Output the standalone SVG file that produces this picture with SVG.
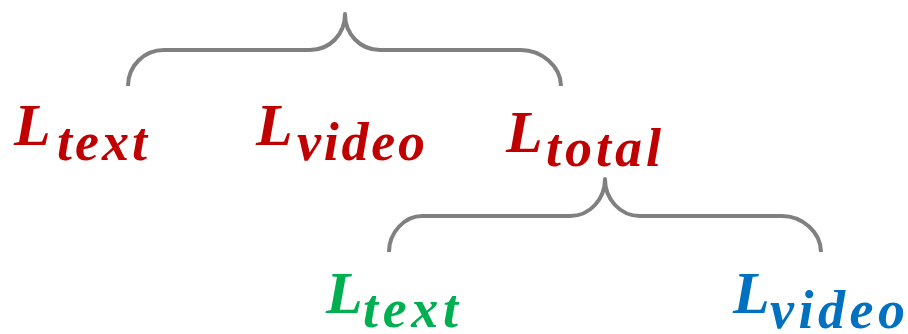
<svg xmlns="http://www.w3.org/2000/svg" width="908" height="334" viewBox="0 0 908 334">
<style>
.brace{fill:none;stroke:#808080;stroke-width:4;stroke-linejoin:round}
.lbl{font-family:"Liberation Serif","Times New Roman",serif;font-weight:bold;font-style:italic}
.big{font-size:60px}
.sub{font-size:54px}
.red{fill:#C00000}
.green{fill:#00B050}
.blue{fill:#0070C0}
</style>
<rect width="908" height="334" fill="#fff"/>
<g id="connectors">
<path class="brace" d="M128,86 C128,66 144,50 164,50 H310 C330,50 345,34 345,14 C345,34 360,50 380,50 H521 C541,50 561,66 561,86"/>
<path class="brace" d="M389,252 C389,232 405,216 422,216 H570 C590,216 605,199 605,179 C605,199 620,216 640,216 H782 C802,216 821,232 821,252"/>
</g>
<g id="node-ltext-top">
<text class="lbl red"><tspan class="big" x="14" y="145">L</tspan><tspan class="sub" x="57" y="160" textLength="90" lengthAdjust="spacing">text</tspan></text>
</g>
<g id="node-lvideo-top">
<text class="lbl red"><tspan class="big" x="256" y="145">L</tspan><tspan class="sub" x="297" y="160" textLength="128" lengthAdjust="spacing">video</tspan></text>
</g>
<g id="node-ltotal">
<text class="lbl red"><tspan class="big" x="506" y="152">L</tspan><tspan class="sub" x="546" y="166" textLength="115" lengthAdjust="spacing">total</tspan></text>
</g>
<g id="node-ltext-bottom">
<text class="lbl green"><tspan class="big" x="326" y="313">L</tspan><tspan class="sub" x="363" y="327" textLength="95" lengthAdjust="spacing">text</tspan></text>
</g>
<g id="node-lvideo-bottom">
<text class="lbl blue"><tspan class="big" x="733" y="313">L</tspan><tspan class="sub" x="770" y="328" textLength="135" lengthAdjust="spacing">video</tspan></text>
</g>
</svg>
